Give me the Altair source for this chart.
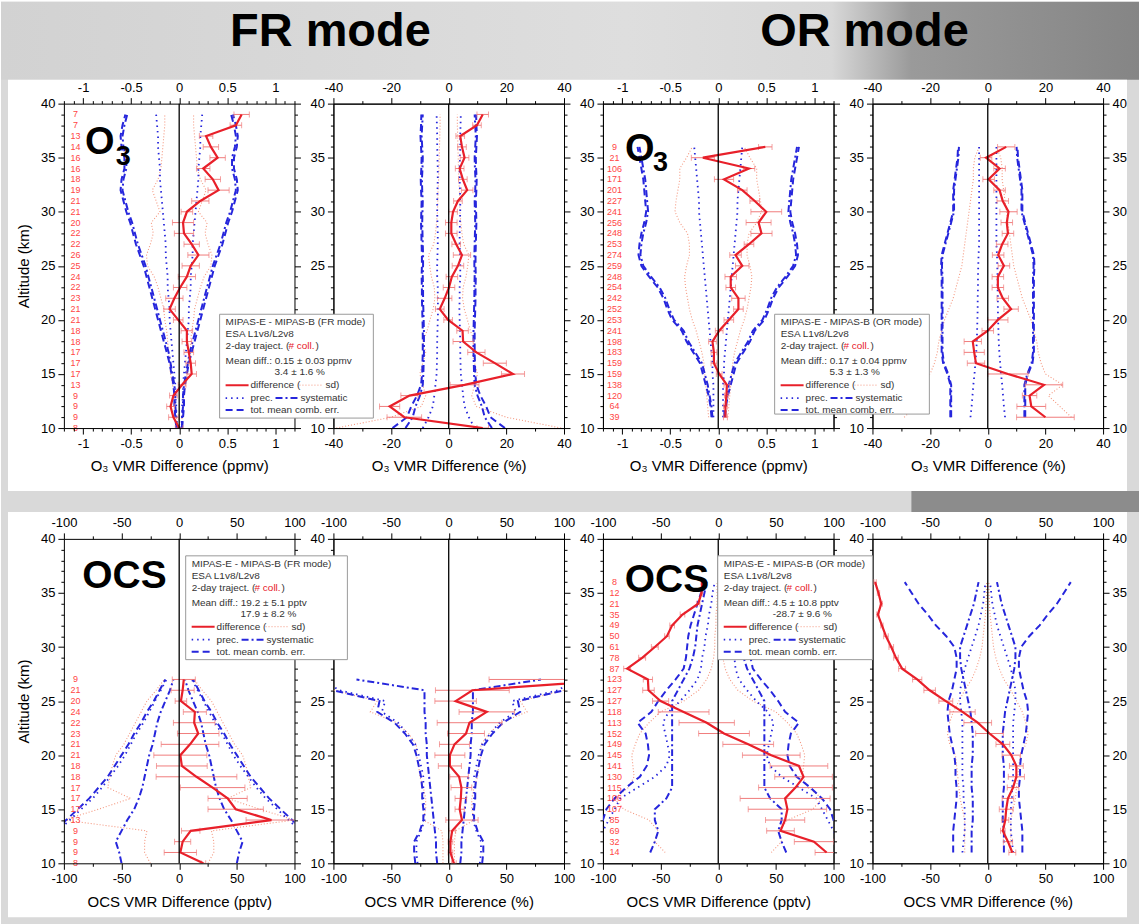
import altair as alt
import pandas as pd

FONT = "Liberation Sans"

# ---------------- data ----------------
ALT_FR_O3 = list(range(39, 9, -1))      # 39 .. 10 km
ALT_OR = list(range(36, 10, -1))        # 36 .. 11 km
ALT_FR_OCS = list(range(27, 9, -1))     # 27 .. 10 km

FR_O3_COUNTS = [7, 7, 13, 14, 16, 16, 18, 19, 21, 21, 20, 22, 22, 26, 25, 24, 22, 23, 21, 21,
                18, 18, 17, 17, 17, 13, 9, 9, 9, 8]
FR_O3_DIFF_PPMV = [0.65, 0.59, 0.28, 0.33, 0.40, 0.25, 0.35, 0.41, 0.22, 0.08, 0.04, 0.05, 0.13, 0.20, 0.12,
                   0.08, 0.01, -0.05, -0.10, -0.01, 0.08, 0.08, 0.10, 0.12, 0.13, 0.03, -0.06, -0.09, -0.06, 0.00]
FR_O3_ERR_PPMV = [0.08, 0.06, 0.07, 0.08, 0.08, 0.07, 0.08, 0.11, 0.09, 0.06, 0.11, 0.10, 0.08, 0.11, 0.09,
                  0.09, 0.07, 0.09, 0.06, 0.05, 0.06, 0.05, 0.05, 0.05, 0.05, 0.04, 0.04, 0.04, 0.05, 0.04]
FR_O3_SD_PPMV = [0.15, 0.15, 0.16, 0.17, 0.18, 0.19, 0.22, 0.28, 0.24, 0.20, 0.29, 0.27, 0.30, 0.34, 0.33,
                 0.26, 0.22, 0.19, 0.16, 0.15, 0.13, 0.12, 0.11, 0.10, 0.09, 0.07, 0.05, 0.04, 0.03, 0.02]
FR_O3_PREC_PPMV = [0.24, 0.23, 0.22, 0.22, 0.21, 0.20, 0.20, 0.19, 0.18, 0.17, 0.16, 0.15, 0.14, 0.14, 0.13,
                   0.12, 0.12, 0.11, 0.10, 0.10, 0.09, 0.08, 0.07, 0.06, 0.05, 0.04, 0.04, 0.03, 0.03, 0.02]
FR_O3_SYS_PPMV = [0.54, 0.57, 0.59, 0.58, 0.55, 0.55, 0.58, 0.59, 0.56, 0.53, 0.49, 0.46, 0.43, 0.39, 0.35,
                  0.32, 0.29, 0.26, 0.23, 0.20, 0.17, 0.14, 0.11, 0.09, 0.07, 0.05, 0.04, 0.04, 0.03, 0.03]
FR_O3_TOT_PPMV = [0.56, 0.59, 0.61, 0.60, 0.57, 0.57, 0.60, 0.61, 0.58, 0.55, 0.51, 0.48, 0.45, 0.41, 0.37,
                  0.34, 0.31, 0.28, 0.25, 0.22, 0.19, 0.16, 0.13, 0.10, 0.08, 0.06, 0.05, 0.05, 0.04, 0.03]

FR_O3_DIFF_PCT = [11.8, 9.8, 4.0, 4.6, 5.5, 3.8, 4.9, 6.4, 3.2, 1.5, 0.9, 0.9, 2.6, 4.6, 3.2,
                  1.1, 0.1, -1.4, -3.1, -0.2, 4.8, 5.0, 9.6, 16.0, 22.3, 5.5, -13.6, -20.5, -15.4, 11.8]
FR_O3_ERR_PCT = [2, 1.5, 1.5, 1.5, 1.5, 1.5, 1.5, 2, 1.5, 1.5, 2, 2, 1.5, 3, 2,
                 2, 2, 2.5, 1.5, 1.5, 2, 3.5, 3, 4, 4, 5, 3, 3.5, 6, 2]
FR_O3_SD_PCT = [3.0, 3.0, 3.1, 3.2, 3.3, 3.4, 3.5, 3.7, 3.8, 3.9, 4.2, 4.6, 5.2, 7.0, 6.6,
                6.0, 5.0, 4.8, 5.4, 6.5, 7.5, 9.0, 8.0, 9.0, 10.0, 9.0, 8.0, 9.5, 20.0, 39.0]
FR_O3_PREC_PCT = [4.2, 4.1, 4.0, 4.0, 3.9, 3.8, 3.8, 3.9, 4.0, 4.0, 3.9, 3.8, 3.8, 3.9, 4.0,
                  4.0, 3.8, 3.8, 3.7, 3.8, 3.9, 4.0, 4.0, 4.1, 4.2, 4.6, 5.0, 5.5, 7.0, 9.0]
FR_O3_SYS_PCT = [9.0, 9.2, 9.4, 9.2, 9.0, 9.1, 9.3, 9.2, 9.0, 9.1, 9.2, 9.1, 9.0, 8.9, 8.9,
                 9.0, 8.9, 8.9, 8.8, 8.7, 8.6, 8.6, 8.6, 8.7, 8.8, 9.0, 10.0, 11.5, 12.5, 15.0]
FR_O3_TOT_PCT = [9.5, 9.6, 9.8, 9.6, 9.4, 9.5, 9.7, 9.6, 9.4, 9.5, 9.6, 9.5, 9.4, 9.3, 9.3,
                 9.4, 9.3, 9.3, 9.2, 9.1, 9.0, 9.0, 9.0, 9.1, 9.2, 9.6, 11.0, 13.0, 14.5, 19.5]

OR_O3_COUNTS = [9, 21, 106, 171, 201, 227, 241, 256, 248, 253, 274, 259, 248, 254, 242, 252, 253, 241,
                198, 183, 159, 159, 138, 120, 64, 39]
OR_O3_DIFF_PPMV = [0.49, -0.16, 0.32, 0.06, 0.25, 0.38, 0.50, 0.42, 0.45, 0.32, 0.18, 0.25, 0.13, 0.13,
                   0.21, 0.21, 0.11, 0.01, -0.06, -0.045, -0.045, 0.01, 0.09, 0.085, 0.075, 0.075]
OR_O3_ERR_PPMV = [0.07, 0.12, 0.06, 0.10, 0.05, 0.05, 0.16, 0.13, 0.11, 0.05, 0.06, 0.07, 0.06, 0.05,
                  0.07, 0.05, 0.05, 0.04, 0.04, 0.03, 0.03, 0.03, 0.03, 0.02, 0.02, 0.02]
OR_O3_SD_PPMV = [0.27, 0.33, 0.40, 0.40, 0.42, 0.44, 0.45, 0.40, 0.32, 0.30, 0.30, 0.33, 0.35, 0.34,
                 0.32, 0.30, 0.27, 0.23, 0.20, 0.17, 0.15, 0.14, 0.13, 0.12, 0.11, 0.10]
OR_O3_PREC_PPMV = [0.25, 0.24, 0.23, 0.22, 0.21, 0.20, 0.20, 0.19, 0.18, 0.17, 0.16, 0.15, 0.14, 0.13,
                   0.12, 0.11, 0.10, 0.09, 0.08, 0.07, 0.06, 0.06, 0.05, 0.05, 0.05, 0.05]
OR_O3_SYS_PPMV = [0.82, 0.80, 0.78, 0.76, 0.75, 0.74, 0.73, 0.75, 0.78, 0.80, 0.81, 0.78, 0.70, 0.61,
                  0.55, 0.51, 0.46, 0.36, 0.31, 0.24, 0.17, 0.14, 0.11, 0.09, 0.07, 0.06]
OR_O3_TOT_PPMV = [0.84, 0.82, 0.80, 0.78, 0.77, 0.76, 0.75, 0.77, 0.80, 0.82, 0.83, 0.80, 0.72, 0.63,
                  0.57, 0.53, 0.48, 0.38, 0.33, 0.26, 0.19, 0.16, 0.13, 0.10, 0.08, 0.07]

OR_O3_DIFF_PCT = [6.4, -0.6, 4.1, 0.3, 4.1, 5.2, 7.2, 6.6, 7.0, 5.0, 3.6, 5.6, 3.5, 3.5, 5.2, 8.1, 3.5,
                  0.0, -5.2, -4.7, -4.1, 7.0, 19.5, 14.5, 15.1, 20.0]
OR_O3_ERR_PCT = [3, 2, 2, 2, 2, 2, 3, 2, 2, 2, 2, 2, 2, 2, 2, 2.5, 3.5, 2, 3, 3.5, 3, 7, 6.5, 2.5, 5, 10]
OR_O3_SD_PCT = [3, 4.5, 5, 5, 5.5, 6, 6.5, 7, 7.5, 8, 8.5, 9, 10, 11, 12, 13.5, 15, 16, 17, 17.5,
                18.5, 20, 26, 21, 25, 29]
OR_O3_PREC_PCT = [3, 3, 3, 3, 3, 3, 3, 3, 3, 3, 3.2, 3.3, 3.4, 3.4, 3.5, 3.5, 3.6, 3.7, 3.8, 4,
                  4.3, 4.6, 5, 5.3, 5.6, 6]
OR_O3_SYS_PCT = [10, 10.2, 10.7, 11.2, 11.7, 11.7, 11.7, 12.7, 13.7, 14.7, 15.7, 15.9, 15.7, 15.7, 15.7,
                 15.7, 15.7, 15.7, 15.7, 15.7, 15.2, 13.7, 12.7, 12.7, 12.7, 12.7]
OR_O3_TOT_PCT = [10.3, 10.5, 11, 11.5, 12, 12, 12, 13, 14, 15, 16, 16.2, 16, 16, 16, 16, 16, 16, 16, 16,
                 15.5, 14, 13, 13, 13, 13]

FR_OCS_COUNTS = [9, 21, 20, 24, 22, 23, 21, 21, 18, 18, 17, 17, 17, 13, 9, 9, 9, 8]
FR_OCS_DIFF_PPTV = [4, 3, 1.5, 13.6, 13, 16.5, 9.4, 1, 2.3, 15, 29, 42, 49, 80, 10, 3, 1, 21]
FR_OCS_ERR_PPTV = [10, 10, 5, 10, 18, 18, 25, 23, 22, 35, 28, 17, 24, 22, 8, 7, 14, 2]
FR_OCS_SD_PPTV = [13, 20, 28, 33, 38, 43, 48, 55, 58, 60, 62, 42, 70, 100, 28, 30, 30, 25]
FR_OCS_PREC_PPTV = [11, 16, 21, 26, 31, 37, 42, 47, 53, 60, 67, 75, 85, 95, 105, 110, 110, 110]
FR_OCS_SYS_PPTV = [5, 8, 12, 16, 19, 21, 23, 26, 28, 30, 32, 35, 39, 45, 50, 55, 52, 50]
FR_OCS_TOT_PPTV = [12, 17, 22, 28, 33, 39, 44, 50, 56, 62, 70, 78, 88, 98, 108, 112, 112, 112]

FR_OCS_DIFF_PCT = [150, 20.5, 6, 33, 18, 15, 5, 1, 1, 9, 11, 10.5, 9.5, 11.5, 3, 1.5, 1.5, 4.5]
FR_OCS_ERR_PCT = [115, 32, 18, 24, 28, 16, 13, 13, 10, 8, 9, 5, 4, 14, 3, 2, 2, 2]
FR_OCS_SD_PCT = [110, 100, 62, 68, 45, 35, 28, 28, 26, 25, 22, 20, 20, 22, 6, 5, 5, 5]
FR_OCS_PREC_PCT = [110, 95, 55, 58, 44, 36, 29, 26, 24, 22, 22, 22, 21, 21, 24, 28, 28, 27]
FR_OCS_SYS_PCT = [80, 21, 21, 21, 20, 20, 19, 19, 18, 17, 16, 15, 14, 13, 12, 11, 11, 10]
FR_OCS_TOT_PCT = [115, 100, 60, 62, 47, 38, 31, 28, 26, 24, 23, 23, 22, 22, 25, 30, 30, 29]

OR_OCS_COUNTS = [8, 12, 21, 35, 49, 50, 61, 78, 87, 123, 127, 127, 118, 113, 152, 149, 145, 141, 130,
                 115, 106, 107, 85, 69, 32, 14]
OR_OCS_DIFF_PPTV = [-14, -14.5, -17.4, -31, -40, -44.5, -55, -66, -79, -61, -60.5, -50, -30, -10, 5, 26,
                    46, 70, 74, 67, 58, 60, 58, 54, 83, 94]
OR_OCS_ERR_PPTV = [1, 1, 1.5, 2, 2, 2, 3, 3, 3, 4, 5, 7, 22, 24, 22, 22, 25, 25, 25, 32, 39, 34, 17, 12, 17, 10]
OR_OCS_SD_PPTV = [1, 1, 1, 2, 2, 3, 3, 4, 6, 10, 17, 30, 50, 60, 68, 72, 75, 74, 73, 78, 90, 82, 60, 52, 55, 46]
OR_OCS_PREC_PPTV = [3, 5, 6, 8, 9, 11, 12, 14, 15, 18, 25, 33, 43, 48, 46, 44, 42, 45, 55, 70, 85, 90, 95,
                    100, 105, 110]
OR_OCS_SYS_PPTV = [10, 12, 14, 16, 18, 19, 20, 22, 25, 30, 35, 40, 40, 40, 40, 40, 40, 40, 40, 40, 45, 55,
                   55, 52, 55, 59]
OR_OCS_TOT_PPTV = [12, 15, 18, 21, 24, 26, 27, 28, 30, 37, 45, 52, 58, 70, 63, 61, 60, 62, 68, 80, 90, 97,
                   100, 102, 105, 108]

OR_OCS_DIFF_PCT = [-97.7, -94.8, -92.4, -95.3, -91.8, -88.3, -83.7, -79.6, -74.3, -61.2, -50.4, -36.4,
                   -21.9, -8.7, 1.5, 13.1, 20.4, 24.8, 24.8, 21.9, 17.5, 16, 15.2, 13.1, 17.5, 21.3]
OR_OCS_ERR_PCT = [1, 1, 1, 1, 1, 2, 2, 2, 3, 4, 5, 6, 11, 12, 12, 6, 8, 6, 7, 5, 5, 6, 3, 2, 4, 3]
OR_OCS_SD_PCT = [1, 1, 1.5, 2, 3, 4, 5, 7, 10, 14, 20, 25, 30, 33, 35, 33, 28, 27, 26, 25, 24, 22, 20, 20,
                 20, 20]
OR_OCS_PREC_PCT = [2, 3, 4, 6, 8, 11, 14, 17, 20, 22, 24, 24, 23, 22, 22, 22, 22, 22, 22, 21, 21, 20, 20,
                   20, 21, 22]
OR_OCS_SYS_PCT = [8, 10, 12, 15, 18, 21, 24, 24, 23, 21, 19, 17, 15, 14, 13, 13, 13, 14, 14, 14, 13, 13, 13,
                  14, 14, 14]
OR_OCS_TOT_PCT = [72, 66, 60, 52, 45, 36, 29, 27, 27, 29, 31, 34, 35, 34, 33, 31, 29, 28, 28, 27, 27, 28,
                  29, 30, 30, 30]

MODE_TITLES = ["FR mode", "OR mode"]
X_TITLES = ["O₃ VMR Difference (ppmv)", "O₃ VMR Difference (%)",
            "O₃ VMR Difference (ppmv)", "O₃ VMR Difference (%)",
            "OCS VMR Difference (pptv)", "OCS VMR Difference (%)",
            "OCS VMR Difference (pptv)", "OCS VMR Difference (%)"]
Y_TITLE = "Altitude (km)"

LEGEND_FR_O3 = ["MIPAS-E - MIPAS-B (FR mode)", "ESA L1v8/L2v8", "Mean diff.: 0.15 ± 0.03 ppmv", "3.4 ± 1.6 %"]
LEGEND_OR_O3 = ["MIPAS-E - MIPAS-B (OR mode)", "ESA L1v8/L2v8", "Mean diff.: 0.17 ± 0.04 ppmv", "5.3 ± 1.3 %"]
LEGEND_FR_OCS = ["MIPAS-E - MIPAS-B (FR mode)", "ESA L1v8/L2v8", "Mean diff.: 19.2 ± 5.1 pptv", "17.9 ± 8.2 %"]
LEGEND_OR_OCS = ["MIPAS-E - MIPAS-B (OR mode)", "ESA L1v8/L2v8", "Mean diff.: 4.5 ± 10.8 pptv", "-28.7 ± 9.6 %"]
LEGEND_TRAJ = ["2-day traject. (", "# coll.", ")"]
LEGEND_ITEMS = ["difference (", "sd)", "prec.", "systematic", "tot. mean comb. err."]

# ---------------- styling / layout ----------------
W, H = 231, 325
GAP_X, GAP_Y = 39, 111
RED = "#e8202a"
ERR_RED = "#f07b7b"
SD_RED = "#f4977f"
BLUE = "#2626dc"
COUNT_RED = "#ff4545"
ONE = pd.DataFrame({"d": [0]})


def ticks(lo, hi, step):
    n = int(round((hi - lo) / step))
    return [round(lo + k * step, 4) for k in range(n + 1)]


def make_axis(orient, values, major, labels, title, z, hide=()):
    test = f"abs(datum.value / {major} - round(datum.value / {major})) < 0.000001"
    kw = dict(orient=orient, values=values,
              tickSize={"condition": {"test": test, "value": 6}, "value": 3},
              tickColor="black", tickWidth=1, domainColor="black", domainWidth=1, grid=False,
              labelFont=FONT, labelFontSize=13, labelColor="black", labelFlush=False,
              labelOverlap=False, labelPadding=3, zindex=z, title=title, titleFont=FONT,
              titleFontSize=15, titleFontWeight="normal", titleColor="black", titlePadding=9)
    if labels:
        cond = test
        for h in hide:
            cond += f" && datum.value != {h}"
        kw["labelExpr"] = f"{cond} ? '' + datum.value : ''"
    else:
        kw["labels"] = False
    return alt.Axis(**kw)


def vtext(s, x, y, color="#333333", size=10, align="left", weight="normal", baseline="middle"):
    return alt.Chart(pd.DataFrame({"t": [s]})).mark_text(
        align=align, baseline=baseline, font=FONT, fontSize=size, color=color, fontWeight=weight
    ).encode(text="t:N", x=alt.value(x), y=alt.value(y))


def vrule(x1, x2, y, color, dash, width):
    return alt.Chart(ONE).mark_rule(color=color, strokeDash=dash, strokeWidth=width).encode(
        x=alt.value(x1), x2=alt.value(x2), y=alt.value(y))


def vrect(x1, x2, y1, y2, color, stroke=None):
    kw = dict(color=color)
    if stroke:
        kw.update(stroke=stroke, strokeWidth=1)
    return alt.Chart(ONE).mark_rect(**kw).encode(
        x=alt.value(x1), x2=alt.value(x2), y=alt.value(y1), y2=alt.value(y2))


def legend_layers(x0, y0, w, h, texts):
    rows = [8, 20, 32, 47, 58, 71, 84, 96]
    L = [vrect(x0, x0 + w, y0, y0 + h, "white", stroke="#9a9a9a")]
    L.append(vtext(texts[0], x0 + 6, y0 + rows[0]))
    L.append(vtext(texts[1], x0 + 6, y0 + rows[1]))
    L.append(vtext(LEGEND_TRAJ[0], x0 + 6, y0 + rows[2]))
    L.append(vtext(LEGEND_TRAJ[1], x0 + 69, y0 + rows[2], color=RED))
    L.append(vtext(LEGEND_TRAJ[2], x0 + 96, y0 + rows[2]))
    L.append(vtext(texts[2], x0 + 6, y0 + rows[3]))
    L.append(vtext(texts[3], x0 + 55, y0 + rows[4]))
    L.append(vrule(x0 + 6, x0 + 29, y0 + rows[5], RED, [1, 0], 2))
    L.append(vtext(LEGEND_ITEMS[0], x0 + 31, y0 + rows[5]))
    L.append(vrule(x0 + 80, x0 + 104, y0 + rows[5], SD_RED, [1, 2], 1))
    L.append(vtext(LEGEND_ITEMS[1], x0 + 106, y0 + rows[5]))
    L.append(vrule(x0 + 6, x0 + 27, y0 + rows[6], BLUE, [1.5, 4], 1.8))
    L.append(vtext(LEGEND_ITEMS[2], x0 + 31, y0 + rows[6]))
    L.append(vrule(x0 + 56, x0 + 80, y0 + rows[6], BLUE, [7, 3, 2, 3], 2))
    L.append(vtext(LEGEND_ITEMS[3], x0 + 81, y0 + rows[6]))
    L.append(vrule(x0 + 6, x0 + 27, y0 + rows[7], BLUE, [7, 4], 2))
    L.append(vtext(LEGEND_ITEMS[4], x0 + 31, y0 + rows[7]))
    return L


def panel(cfg):
    dom = cfg["dom"]
    z = 1 if cfg.get("bg") else 0
    xs = alt.Scale(domain=dom, nice=False, zero=False)
    ys = alt.Scale(domain=[10, 40], nice=False, zero=False)
    xt = ticks(dom[0], dom[1], cfg["minor"])
    yt = ticks(10, 40, 1)
    xax = make_axis("bottom", xt, cfg["major"], True, cfg["xtitle"], z)
    yax = make_axis("left", yt, 5, True, cfg.get("ytitle", ""), z, hide=cfg.get("hide", ()))

    def X(f):
        return alt.X(f + ":Q", scale=xs, axis=xax)

    def Y(f):
        return alt.Y(f + ":Q", scale=ys, axis=yax)

    alts = cfg["alts"]
    layers = []
    for item in cfg.get("bg", []):
        layers.append(item)

    # symmetric error envelopes
    styles = {"sd": (SD_RED, [1, 2], 1.1), "prec": (BLUE, [1.5, 4], 1.8),
              "sys": (BLUE, [7, 3, 2, 3], 2.0), "tot": (BLUE, [7, 4], 2.0)}
    for kind in ["sd", "prec", "sys", "tot"]:
        vals = cfg[kind]
        rows = []
        for side in (-1, 1):
            for a, v in zip(alts, vals):
                rows.append({"alt": a, "x": side * v, "side": str(side)})
        col, dash, wd = styles[kind]
        layers.append(alt.Chart(pd.DataFrame(rows)).mark_line(
            color=col, strokeDash=dash, strokeWidth=wd, clip=True).encode(
            x=X("x"), y=Y("alt"), detail="side:N", order=alt.Order("alt:Q")))

    ddf = pd.DataFrame({"alt": alts, "x": cfg["diff"], "e": cfg["err"]})
    ddf["lo"] = ddf["x"] - ddf["e"]
    ddf["hi"] = ddf["x"] + ddf["e"]
    caps = pd.DataFrame({"alt": alts + alts, "x": list(ddf["lo"]) + list(ddf["hi"])})
    layers.append(alt.Chart(ddf).mark_rule(color=ERR_RED, strokeWidth=1, clip=True).encode(
        x=X("lo"), x2="hi:Q", y=Y("alt")))
    layers.append(alt.Chart(caps).mark_tick(orient="vertical", color=ERR_RED, size=6, thickness=1,
                                            clip=True).encode(x=X("x"), y=Y("alt")))
    layers.append(alt.Chart(ddf).mark_line(color=RED, strokeWidth=2.2, clip=True).encode(
        x=X("x"), y=Y("alt"), order=alt.Order("alt:Q")))
    layers.append(alt.Chart(pd.DataFrame({"x": [0]})).mark_rule(color="black", strokeWidth=1.3).encode(
        x=X("x")))

    if cfg.get("counts"):
        cdf = pd.DataFrame({"alt": alts, "n": cfg["counts"], "x": [cfg["cx"]] * len(alts)})
        layers.append(alt.Chart(cdf).mark_text(color=COUNT_RED, font=FONT, fontSize=9).encode(
            x=X("x"), y=Y("alt"), text="n:Q"))

    for (t, bx, by, fs) in cfg.get("big", []):
        layers.append(alt.Chart(pd.DataFrame({"t": [t], "x": [bx], "alt": [by]})).mark_text(
            font=FONT, fontSize=fs, fontWeight="bold", align="left", baseline="alphabetic",
            color="black").encode(x=X("x"), y=Y("alt"), text="t:N"))

    for item in cfg.get("extra", []):
        layers.append(item)

    axis_layer = alt.Chart(pd.DataFrame({"ax": [dom[0]], "ay": [10]})).mark_point(opacity=0).encode(
        x=alt.X("ax:Q", scale=xs, axis=make_axis("top", xt, cfg["major"], True, "", z)),
        y=alt.Y("ay:Q", scale=ys, axis=make_axis("right", yt, 5, cfg.get("rlabels", False), "", z)))

    return alt.layer(alt.layer(*layers), axis_layer).resolve_scale(
        x="independent", y="independent").properties(width=W, height=H)


# background decorations (pixel offsets relative to first panel of each row)
top_grad = alt.LinearGradient(gradient="linear", x1=0, x2=1, y1=0, y2=0, stops=[
    alt.GradientStop(color="#d2d2d2", offset=0), alt.GradientStop(color="#dedede", offset=0.55),
    alt.GradientStop(color="#d8d8d8", offset=0.73), alt.GradientStop(color="#9a9a9a", offset=0.8),
    alt.GradientStop(color="#858585", offset=1)])
bg_row1 = [
    vrect(-63, 1077, -102, 822, "#d9d9d9"),
    vrect(-63, 1077, -102, -24, top_grad),
    vrect(849, 1077, 388, 409, "#8c8c8c"),
    vrect(-56, 1065, -24, 388, "white"),
]
bg_row2 = [vrect(-56, 1065, -27, 379, "white")]

title_fr = [vtext(MODE_TITLES[0], 267, -58, color="black", size=47, align="center", weight="bold",
                  baseline="alphabetic")]
title_or = [vtext(MODE_TITLES[1], 262, -58, color="black", size=47, align="center", weight="bold",
                  baseline="alphabetic")]

O3_DOM, PCT_DOM, OCS_DOM = [-1.2, 1.2], [-40, 40], [-100, 100]

cfgs = [
    dict(alts=ALT_FR_O3, dom=O3_DOM, minor=0.1, major=0.5, xtitle=X_TITLES[0], ytitle=Y_TITLE,
         diff=FR_O3_DIFF_PPMV, err=FR_O3_ERR_PPMV, sd=FR_O3_SD_PPMV, prec=FR_O3_PREC_PPMV,
         sys=FR_O3_SYS_PPMV, tot=FR_O3_TOT_PPMV, counts=FR_O3_COUNTS, cx=-1.08,
         big=[("O", -0.98, 35.3, 38), ("3", -0.66, 34.3, 27)], bg=bg_row1, extra=title_fr),
    dict(alts=ALT_FR_O3, dom=PCT_DOM, minor=10, major=20, xtitle=X_TITLES[1], hide=(15, 20),
         diff=FR_O3_DIFF_PCT, err=FR_O3_ERR_PCT, sd=FR_O3_SD_PCT, prec=FR_O3_PREC_PCT,
         sys=FR_O3_SYS_PCT, tot=FR_O3_TOT_PCT, extra=legend_layers(-114, 211, 154, 104, LEGEND_FR_O3)),
    dict(alts=ALT_OR, dom=O3_DOM, minor=0.1, major=0.5, xtitle=X_TITLES[2],
         diff=OR_O3_DIFF_PPMV, err=OR_O3_ERR_PPMV, sd=OR_O3_SD_PPMV, prec=OR_O3_PREC_PPMV,
         sys=OR_O3_SYS_PPMV, tot=OR_O3_TOT_PPMV, counts=OR_O3_COUNTS, cx=-1.08,
         big=[("O", -0.97, 34.7, 38), ("3", -0.68, 33.8, 27)], extra=title_or),
    dict(alts=ALT_OR, dom=PCT_DOM, minor=10, major=20, xtitle=X_TITLES[3], rlabels=True, hide=(15, 20),
         diff=OR_O3_DIFF_PCT, err=OR_O3_ERR_PCT, sd=OR_O3_SD_PCT, prec=OR_O3_PREC_PCT,
         sys=OR_O3_SYS_PCT, tot=OR_O3_TOT_PCT, extra=legend_layers(-98, 211, 155, 100, LEGEND_OR_O3)),
    dict(alts=ALT_FR_OCS, dom=OCS_DOM, minor=25, major=50, xtitle=X_TITLES[4], ytitle=Y_TITLE,
         diff=FR_OCS_DIFF_PPTV, err=FR_OCS_ERR_PPTV, sd=FR_OCS_SD_PPTV, prec=FR_OCS_PREC_PPTV,
         sys=FR_OCS_SYS_PPTV, tot=FR_OCS_TOT_PPTV, counts=FR_OCS_COUNTS, cx=-90,
         big=[("OCS", -84, 35.5, 39)], bg=bg_row2),
    dict(alts=ALT_FR_OCS, dom=OCS_DOM, minor=25, major=50, xtitle=X_TITLES[5], hide=(30, 35),
         diff=FR_OCS_DIFF_PCT, err=FR_OCS_ERR_PCT, sd=FR_OCS_SD_PCT, prec=FR_OCS_PREC_PCT,
         sys=FR_OCS_SYS_PCT, tot=FR_OCS_TOT_PCT, extra=legend_layers(-148, 17, 162, 104, LEGEND_FR_OCS)),
    dict(alts=ALT_OR, dom=OCS_DOM, minor=25, major=50, xtitle=X_TITLES[6],
         diff=OR_OCS_DIFF_PPTV, err=OR_OCS_ERR_PPTV, sd=OR_OCS_SD_PPTV, prec=OR_OCS_PREC_PPTV,
         sys=OR_OCS_SYS_PPTV, tot=OR_OCS_TOT_PPTV, counts=OR_OCS_COUNTS, cx=-90,
         big=[("OCS", -81, 35.1, 39)]),
    dict(alts=ALT_OR, dom=OCS_DOM, minor=25, major=50, xtitle=X_TITLES[7], rlabels=True, hide=(30, 35),
         diff=OR_OCS_DIFF_PCT, err=OR_OCS_ERR_PCT, sd=OR_OCS_SD_PCT, prec=OR_OCS_PREC_PCT,
         sys=OR_OCS_SYS_PCT, tot=OR_OCS_TOT_PCT, extra=legend_layers(-155, 17, 155, 104, LEGEND_OR_OCS)),
]

panels = [panel(c) for c in cfgs]

chart = alt.concat(*panels, columns=4, spacing={"row": GAP_Y, "column": GAP_X}, bounds="flush").properties(
    padding=0).configure_view(stroke="black", strokeWidth=1)

chart.save("out.html", embed_options={"renderer": "svg", "actions": False})
